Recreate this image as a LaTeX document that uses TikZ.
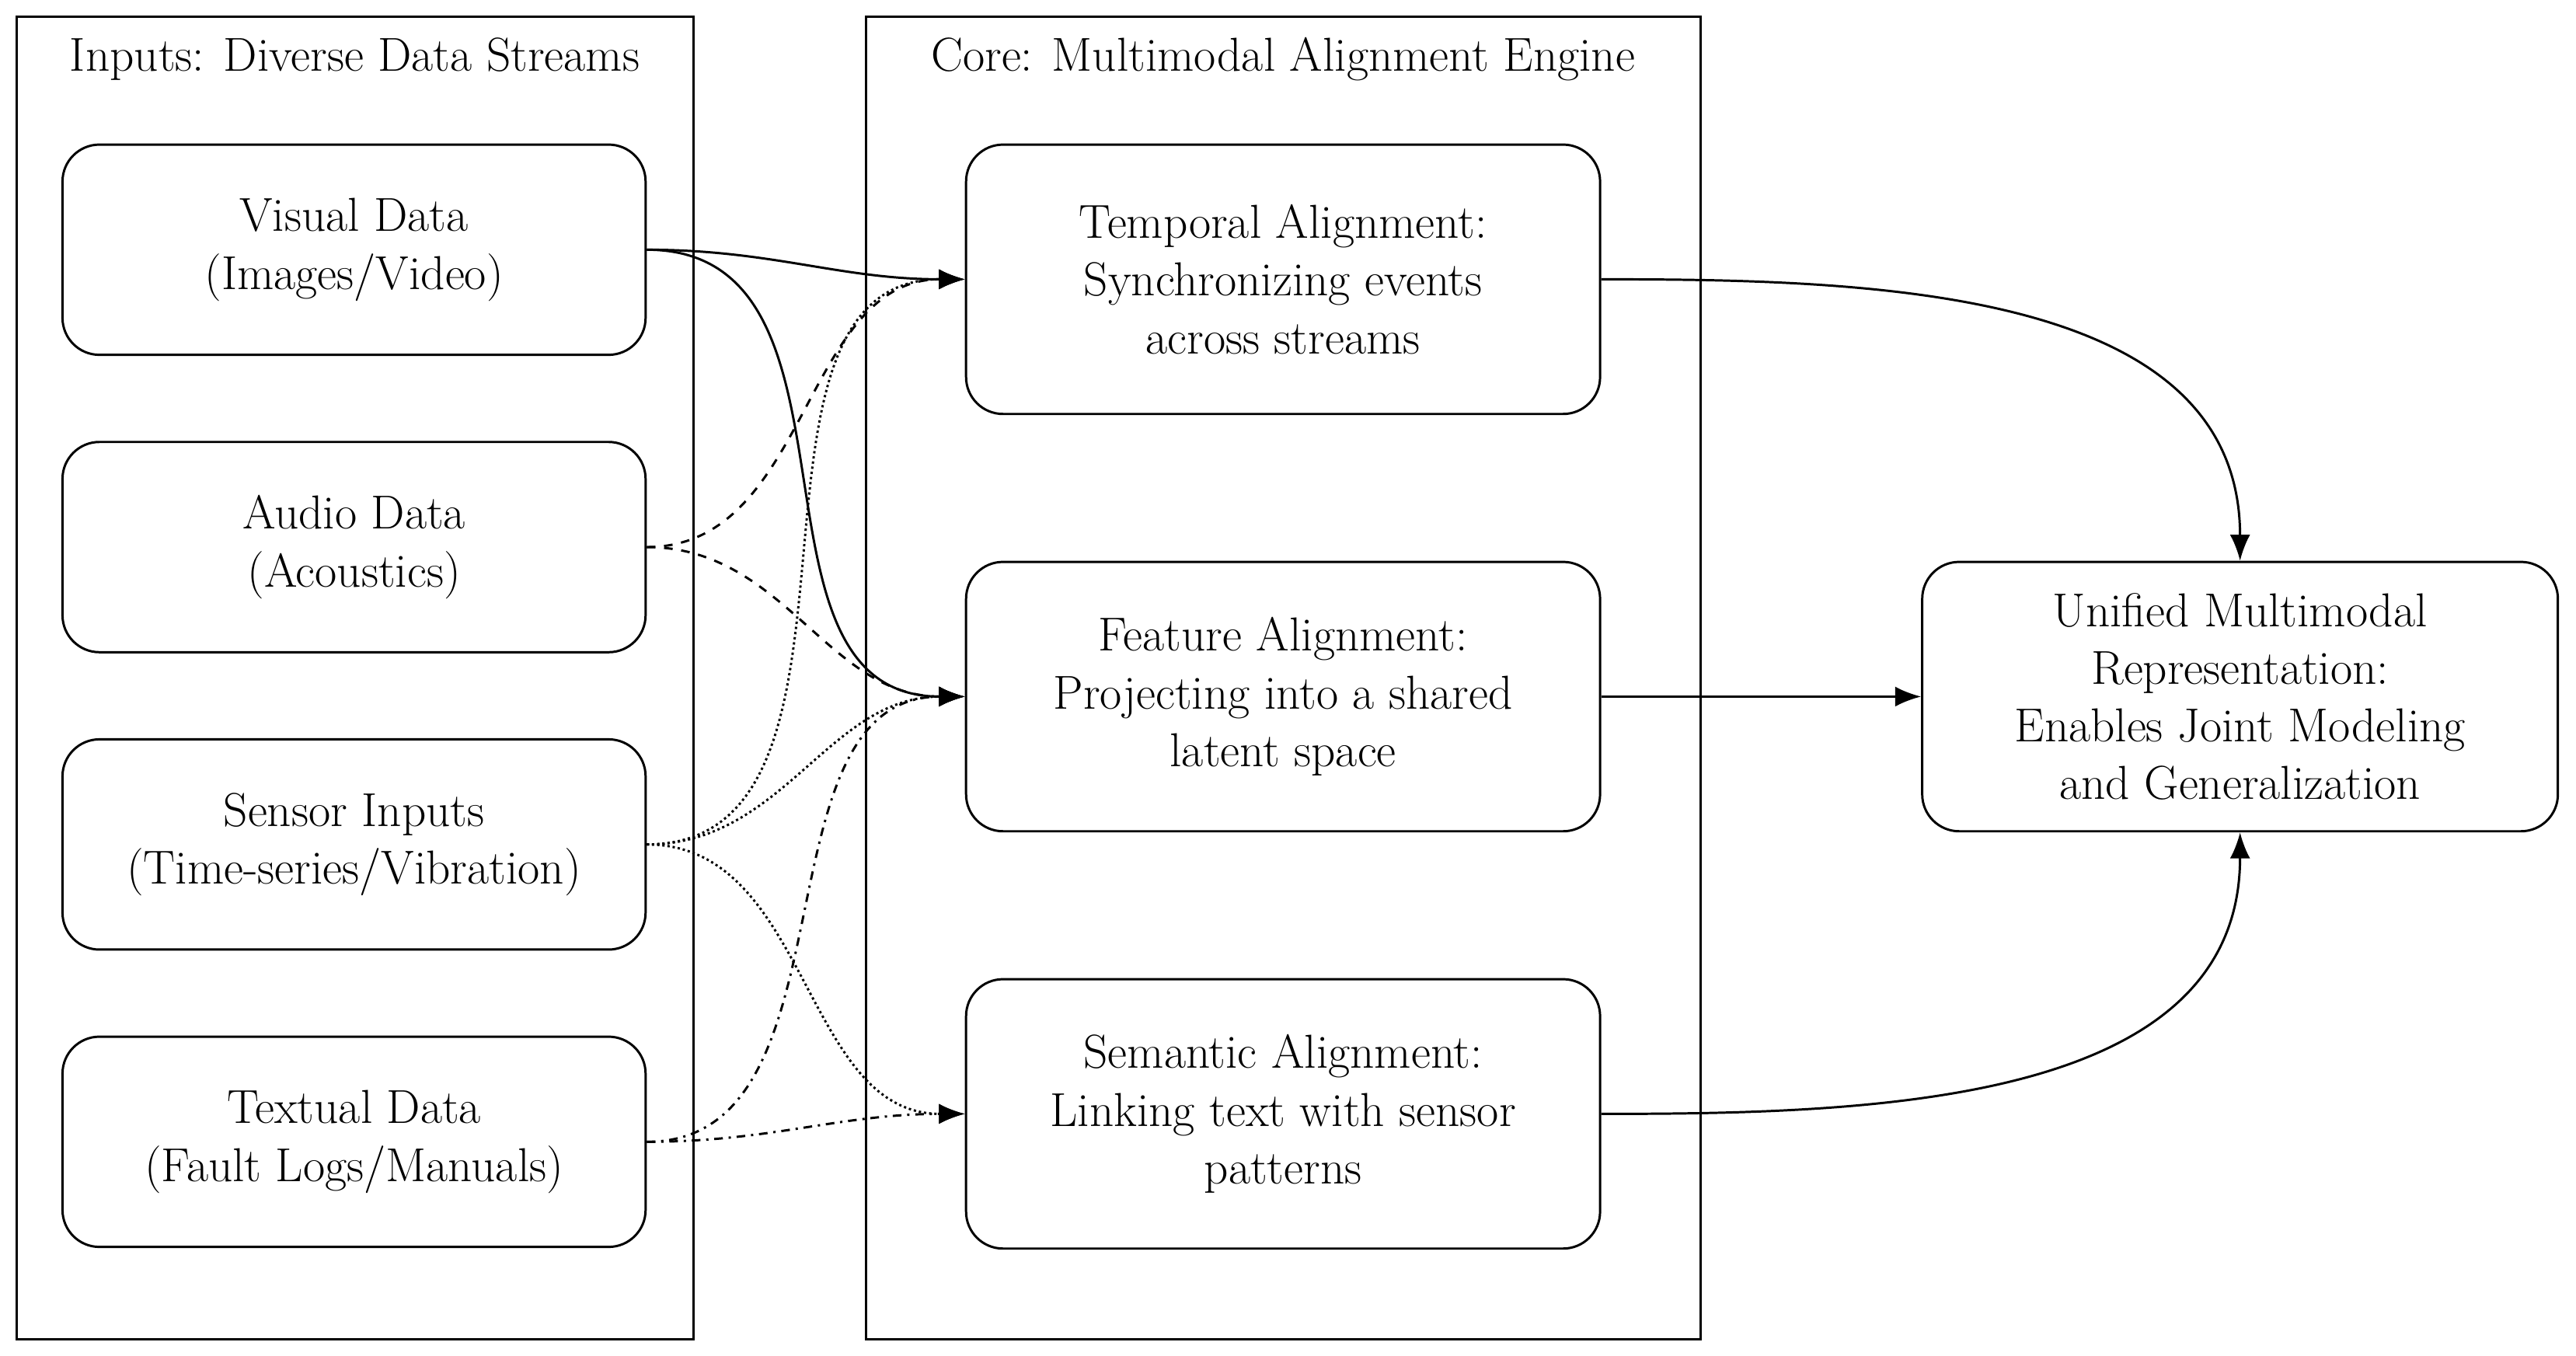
\documentclass[tikz,border=0pt]{standalone}
\usetikzlibrary{arrows.meta}
\begin{document}
\begin{tikzpicture}[x=0.02cm,y=-0.02cm,
  box/.style={draw,thick,rounded corners=0.45cm,align=center,font=\fontsize{16.5}{20}\selectfont,inner sep=0pt},
  cont/.style={draw,thick},
  ttl/.style={font=\fontsize{16.5}{20}\selectfont},
  arr/.style={-{Latex[length=9pt,width=7pt]},thick}]
\useasboundingbox (0,0) rectangle (1568,825);
\draw[cont] (10,10) rectangle (422,815);
\draw[cont] (527,10) rectangle (1035,815);
\node[ttl] (t1) at (216,36) {Inputs: Diverse Data Streams};
\node[ttl] (t2) at (781,36) {Core: Multimodal Alignment Engine};
\node[box,minimum width=7.1cm,minimum height=2.56cm] (V) at (215.5,152) {Visual Data\\(Images/Video)};
\node[box,minimum width=7.1cm,minimum height=2.56cm] (A) at (215.5,333) {Audio Data\\(Acoustics)};
\node[box,minimum width=7.1cm,minimum height=2.56cm] (S) at (215.5,514) {Sensor Inputs\\(Time-series/Vibration)};
\node[box,minimum width=7.1cm,minimum height=2.56cm] (X) at (215.5,695) {Textual Data\\(Fault Logs/Manuals)};
\node[box,minimum width=7.72cm,minimum height=3.28cm] (T) at (781,170) {Temporal Alignment:\\Synchronizing events\\across streams};
\node[box,minimum width=7.72cm,minimum height=3.28cm] (F) at (781,424) {Feature Alignment:\\Projecting into a shared\\latent space};
\node[box,minimum width=7.72cm,minimum height=3.28cm] (M) at (781,678) {Semantic Alignment:\\Linking text with sensor\\patterns};
\node[box,minimum width=7.74cm,minimum height=3.28cm] (U) at (1363.5,424) {Unified Multimodal\\Representation:\\Enables Joint Modeling\\and Generalization};
\draw[arr] (V.east) to[out=0,in=180] (T.west);
\draw[arr] (V.east) to[out=0,in=180,looseness=1.1] (F.west);
\draw[arr,dashed] (A.east) to[out=0,in=180] (T.west);
\draw[arr,dashed] (A.east) to[out=0,in=180] (F.west);
\draw[arr,densely dotted] (S.east) to[out=0,in=180] (T.west);
\draw[arr,densely dotted] (S.east) to[out=0,in=180] (F.west);
\draw[arr,densely dotted] (S.east) to[out=0,in=180] (M.west);
\draw[arr,dash dot] (X.east) to[out=0,in=180] (F.west);
\draw[arr,dash dot] (X.east) to[out=0,in=180] (M.west);
\draw[arr] (T.east) to[out=0,in=90] (U.north);
\draw[arr] (F.east) -- (U.west);
\draw[arr] (M.east) to[out=0,in=-90] (U.south);
\end{tikzpicture}
\end{document}
